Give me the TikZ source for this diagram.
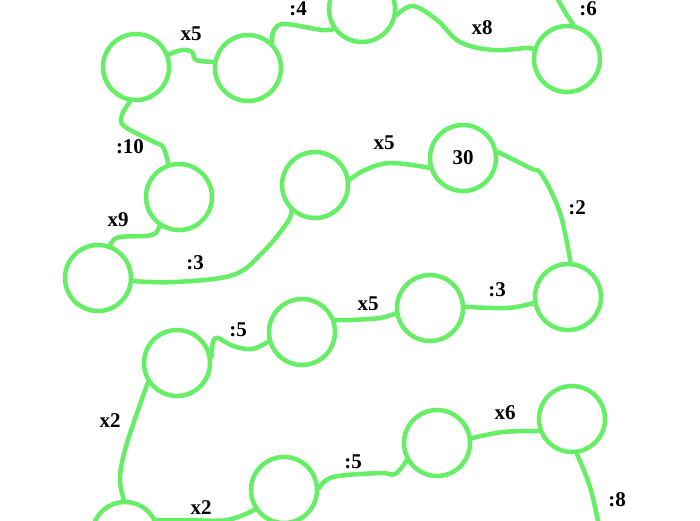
\documentclass[tikz,border=0pt]{standalone}
\usepackage{fontspec}
\setmainfont{Liberation Serif}
\usepackage{xcolor}
\definecolor{linkgreen}{RGB}{102,238,102}
\tikzset{
	ring/.style={circle, draw=linkgreen, line width=4.5pt, minimum size=66pt, inner sep=0pt, font=\fontsize{21}{25}\selectfont\bfseries},
	link/.style={draw=linkgreen, line width=4.5pt, line cap=round, line join=round},
	tag/.style={font=\fontsize{21}{25}\selectfont\bfseries, inner sep=0pt}
}
\begin{document}
\begin{tikzpicture}[x=1pt, y=-1pt]
	\useasboundingbox (0,0) rectangle (700,520);
		% circles
	\node[ring] (a) at (136,67) {};
	\node[ring] (b) at (248,68) {};
	\node[ring] (c) at (362,9) {};
	\node[ring] (d) at (567,59) {};
	\node[ring] (e) at (179,197) {};
	\node[ring] (f) at (98,278) {};
	\node[ring] (g) at (315,185) {};
	\node[ring] (h) at (463,158) {30};
	\node[ring] (i) at (568,297) {};
	\node[ring] (j) at (430,308) {};
	\node[ring] (k) at (302,332) {};
	\node[ring] (l) at (177,363) {};
	\node[ring] (m) at (125,535) {};
	\node[ring] (n) at (284,490) {};
	\node[ring] (o) at (437,443) {};
	\node[ring] (p) at (572,419) {};
	\coordinate (topend) at (556,-4);
	\coordinate (botend) at (599,526);
	
		% wavy links
	\draw[link] plot[smooth, tension=0.6] coordinates {(topend) (565,12) (d.80)};
	\draw[link] plot[smooth, tension=0.6] coordinates {(d.164) (527,48) (493,50) (460,42) (437,20) (413,6) (c.-10)};
	\draw[link] plot[smooth, tension=0.6] coordinates {(c.-145) (322,30) (285,24) (274,30) (b.47)};
	\draw[link] plot[smooth, tension=0.6] coordinates {(b.170) (196,60) (192,52) (182,50) (a.21)};
	\draw[link] plot[smooth, tension=0.6] coordinates {(a.260) (122,115) (124,126) (152,141) (163,147) (e.108)};
	\draw[link] plot[smooth, tension=0.6] coordinates {(e.236) (152,235) (120,237) (112,242) (f.69)};
	\draw[link] plot[smooth, tension=0.6] coordinates {(f.-5) (175,282) (233,275) (263,252) (287,223) (g.228)};
	\draw[link] plot[smooth, tension=0.6] coordinates {(g.9) (365,170) (390,163) (h.196)};
	\draw[link] plot[smooth, tension=0.6] coordinates {(h.10) (530,168) (542,175) (560,213) (i.86)};
	\draw[link] plot[smooth, tension=0.6] coordinates {(i.190) (507,308) (j.2)};
	\draw[link] plot[smooth, tension=0.6] coordinates {(j.189) (380,318) (350,320) (k.20)};
	\draw[link] plot[smooth, tension=0.6] coordinates {(k.196) (252,349) (233,346) (218,338) (213,342) (l.10)};
	\draw[link] plot[smooth, tension=0.6] coordinates {(l.214) (127,443) (120,477) (m.92)};
	\draw[link] plot[smooth, tension=0.6] coordinates {(m.25) (185,520) (227,520) (n.214)};
	\draw[link] plot[smooth, tension=0.6] coordinates {(n.3) (333,477) (380,473) (395,474) (o.210)};
	\draw[link] plot[smooth, tension=0.6] coordinates {(o.8) (503,432) (p.200)};
	\draw[link] plot[smooth, tension=0.6] coordinates {(p.278) (590,487) (botend)};
	
		% labels
	\node[tag] (t1) at (191,34) {x5};
	\node[tag] (t2) at (298,9) {:4};
	\node[tag] (t3) at (482,28) {x8};
	\node[tag] (t4) at (588,9) {:6};
	\node[tag] (t5) at (130,147) {:10};
	\node[tag] (t6) at (118,220) {x9};
	\node[tag] (t7) at (195,263) {:3};
	\node[tag] (t8) at (384,143) {x5};
	\node[tag] (t9) at (577,208) {:2};
	\node[tag] (t10) at (497,290) {:3};
	\node[tag] (t11) at (368,304) {x5};
	\node[tag] (t12) at (238,330) {:5};
	\node[tag] (t13) at (110,421) {x2};
	\node[tag] (t14) at (201,508) {x2};
	\node[tag] (t15) at (353,462) {:5};
	\node[tag] (t16) at (505,413) {x6};
	\node[tag] (t17) at (617,500) {:8};
	
\end{tikzpicture}
\end{document}
